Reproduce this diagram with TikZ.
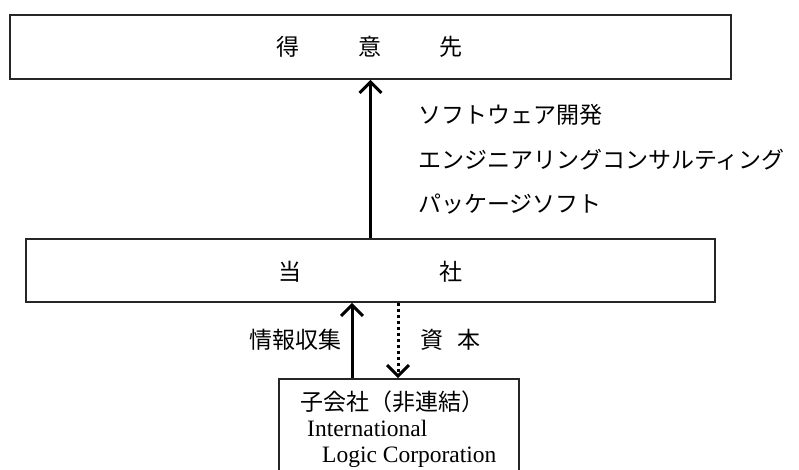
\documentclass[tikz,border=0pt]{standalone}
\usepackage{fontspec}
\setmainfont{Liberation Serif}
\newfontfamily\jp{Noto Sans CJK JP}
\usetikzlibrary{arrows.meta,calc}
\tikzset{
  boxnode/.style={draw=black!85, line width=1.6pt, inner sep=0pt},
  jtext/.style={font=\jp\fontsize{23}{28}\selectfont, inner sep=0pt},
  etext/.style={font=\fontsize{23.5}{28}\selectfont, inner sep=0pt},
  arr/.style={line width=3pt, -{Straight Barb[length=11pt,width=22pt,line width=3pt]}},
  darr/.style={line width=3pt, dash pattern=on 3pt off 3pt, -{Straight Barb[length=11pt,width=22pt,line width=3pt]}, shorten >=0pt},
}
\begin{document}
\begin{tikzpicture}[x=1pt,y=-1pt]
\useasboundingbox (0,0) rectangle (799,469);
\node[boxnode, minimum width=721pt, minimum height=64pt] (top) at (370.5,47) {};
\node[boxnode, minimum width=689pt, minimum height=63pt] (mid) at (370.5,270.5) {};
\node[boxnode, minimum width=240pt, minimum height=100pt] (bot) at (399,429) {};
\node[jtext] (t1) at (288,47) {得};
\node[jtext] (t2) at (370,47) {意};
\node[jtext] (t3) at (451,47) {先};
\node[jtext] (m1) at (290,272) {当};
\node[jtext] (m2) at (451,272) {社};
\node[jtext, anchor=west] (s1) at (418,115) {ソフトウェア開発};
\node[jtext, anchor=west] (s2) at (418,160) {エンジニアリングコンサルティング};
\node[jtext, anchor=west] (s3) at (418,204) {パッケージソフト};
\node[jtext, anchor=east] (l1) at (342,340) {情報収集};
\node[jtext, anchor=west] (l2) at (420,340) {資\hspace{14pt}本};
\node[jtext, anchor=west] (b1) at (300,402) {子会社（非連結）};
\node[etext, anchor=west] (b2) at (307,428) {International};
\node[etext, anchor=west] (b3) at (322,457) {Logic Corporation};
\draw[arr] (mid.north) -- (top.south);
\draw[arr] ($(bot.north)+(-47,0)$) -- ($(mid.south)+(-18.5,0)$);
\draw[darr] ($(mid.south)+(27.5,0)$) -- ($(bot.north)+(-1,0)$);
\end{tikzpicture}
\end{document}
